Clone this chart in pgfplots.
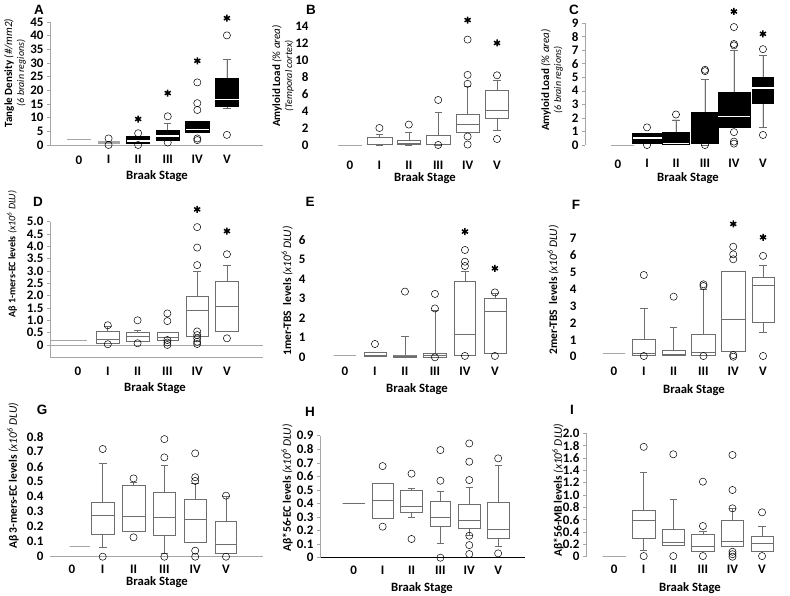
\documentclass[border=0pt]{standalone}
\usepackage{fontspec}
\setmainfont{Carlito}
\newfontfamily\arialfont{Liberation Sans}
\usepackage{pgfplots}
\pgfplotsset{compat=1.18}
\usepgfplotslibrary{statistics}

\definecolor{boxgray}{HTML}{6E6E6E}
\definecolor{lightg}{HTML}{A6A6A6}

\pgfplotsset{
  panel/.style={
    scale only axis, clip=false, anchor=south west,
    boxplot/draw direction=y,
    xtick={0,...,5}, xticklabels={0,I,II,III,IV,V},
    ticklabel style={font=\bfseries\fontsize{13}{13}\selectfont, text=black},
    /pgf/number format/assume math mode=true,
    axis lines*=left,
    axis line style={-, lightg, line width=0.7pt},
    x tick style={draw=none},
    y tick style={lightg, line width=0.5pt},
    tick align=outside, major tick length=3pt,
  },
  noaxes/.style={axis line style={draw=none}, y tick style={draw=none}},
  wb/.style={draw=boxgray, fill=white, line width=0.6pt,
    mark=o, mark size=3.6pt, mark options={draw=black, fill=white, line width=0.5pt, solid},
    boxplot/whisker extend=0.25},
  bb/.style={draw=black, fill=black, line width=0.6pt,
    mark=o, mark size=3.6pt, mark options={draw=black, fill=white, line width=0.5pt, solid},
    boxplot/every median/.style={draw=white, line width=1.6pt},
    boxplot/every whisker/.style={draw=boxgray},
    boxplot/whisker extend=0.25},
  zb/.style={draw=lightg, line width=0.8pt, mark=none},
  star/.style={only marks, mark=asterisk, mark size=3.5pt, line width=1.5pt, black},
}

\newcommand{\ylab}[2]{\fontsize{#1}{15}\selectfont #2}
\newcommand{\dlu}{\textit{(x10\textsuperscript{6} DLU)}}

\begin{document}
\begin{tikzpicture}
\path[use as bounding box] (0,0) rectangle (790pt,595pt);

% ---------------- A ----------------
\begin{axis}[panel, at={(50pt,450pt)}, width=213pt, height=123pt,
  xmin=-0.98, xmax=6.22, ymin=0, ymax=45,
  ytick={0,5,...,45}, yticklabels={0,5,10,15,20,25,30,35,40,45},
  xticklabel style={yshift=-4pt}]
\addplot[zb, boxplot prepared={draw position=0, box extend=0.78, lower whisker=2, lower quartile=2, median=2, upper quartile=2, upper whisker=2}] coordinates {};
\addplot[wb, draw=lightg, boxplot prepared={draw position=1, box extend=0.7, lower whisker=0.7, lower quartile=0.7, median=1.0, upper quartile=1.3, upper whisker=1.3}] table[row sep=\\, y index=0] {y\\ 2.4\\ 0\\};
\addplot[bb, boxplot prepared={draw position=2, box extend=0.78, lower whisker=0.6, lower quartile=0.6, median=1.5, upper quartile=3.0, upper whisker=3.0}] table[row sep=\\, y index=0] {y\\ 4.3\\ 0\\};
\addplot[bb, boxplot prepared={draw position=3, box extend=0.78, lower whisker=1.6, lower quartile=1.6, median=3.4, upper quartile=5.3, upper whisker=7.9}] table[row sep=\\, y index=0] {y\\ 10.5\\ 0.9\\};
\addplot[bb, boxplot prepared={draw position=4, box extend=0.78, lower whisker=4.6, lower quartile=4.6, median=5.7, upper quartile=8.6, upper whisker=8.6}] table[row sep=\\, y index=0] {y\\ 22.9\\ 15.3\\ 12.8\\ 2.4\\ 1.8\\};
\addplot[bb, boxplot prepared={draw position=5, box extend=0.8, lower whisker=13.5, lower quartile=14.1, median=16.7, upper quartile=24.4, upper whisker=31.4}] table[row sep=\\, y index=0] {y\\ 40.1\\ 3.7\\};
\addplot[star] coordinates {(2,9.5) (3,19) (4,30.8) (5,46.4)};
\end{axis}

% ---------------- B ----------------
\begin{axis}[panel, noaxes, at={(315pt,450pt)}, width=212pt, height=119pt,
  xmin=-1.19, xmax=6.02, ymin=0, ymax=14,
  ytick={0,2,...,14}, yticklabels={0,2,4,6,8,10,12,14},
  xticklabel style={yshift=-9.5pt}]
\addplot[zb, boxplot prepared={draw position=0, box extend=0.8, lower whisker=0, lower quartile=0, median=0, upper quartile=0, upper whisker=0}] coordinates {};
\addplot[wb, boxplot prepared={draw position=1, box extend=0.85, lower whisker=0, lower quartile=0.05, median=0.1, upper quartile=0.9, upper whisker=1.2}] table[row sep=\\, y index=0] {y\\ 2.0\\};
\addplot[wb, boxplot prepared={draw position=2, box extend=0.8, lower whisker=0, lower quartile=0.05, median=0.2, upper quartile=0.6, upper whisker=1.45}] table[row sep=\\, y index=0] {y\\ 2.4\\};
\addplot[wb, boxplot prepared={draw position=3, box extend=0.8, lower whisker=0, lower quartile=0.05, median=0.1, upper quartile=1.1, upper whisker=3.8}] table[row sep=\\, y index=0] {y\\ 5.3\\ 0\\};
\addplot[wb, boxplot prepared={draw position=4, box extend=0.8, lower whisker=1.5, lower quartile=1.5, median=2.45, upper quartile=3.6, upper whisker=6.9}] table[row sep=\\, y index=0] {y\\ 12.4\\ 8.25\\ 7.2\\ 1.0\\ 0.05\\};
\addplot[wb, boxplot prepared={draw position=5, box extend=0.8, lower whisker=1.7, lower quartile=3.15, median=4.05, upper quartile=6.4, upper whisker=7.6}] table[row sep=\\, y index=0] {y\\ 8.2\\ 0.7\\};
\addplot[star] coordinates {(4,14.7) (5,12.0)};
\end{axis}

% ---------------- C ----------------
\begin{axis}[panel, at={(585pt,450pt)}, width=204pt, height=122pt,
  xmin=-1.14, xmax=5.9, ymin=0, ymax=9,
  ytick={0,...,9}, yticklabels={0,1,2,3,4,5,6,7,8,9},
  x axis line style={draw=none},
  xticklabel style={yshift=-8pt}]
\addplot[zb, boxplot prepared={draw position=0.15, box extend=0.8, lower whisker=0, lower quartile=0, median=0, upper quartile=0, upper whisker=0}] coordinates {};
\addplot[bb, boxplot prepared={draw position=1, box extend=1.0, lower whisker=0.12, lower quartile=0.12, median=0.5, upper quartile=0.86, upper whisker=0.86}] table[row sep=\\, y index=0] {y\\ 1.3\\ 0\\};
\addplot[bb, boxplot prepared={draw position=2, box extend=0.92, lower whisker=0.07, lower quartile=0.07, median=0.1, upper quartile=0.96, upper whisker=1.85}] table[row sep=\\, y index=0] {y\\ 2.25\\};
\addplot[bb, boxplot prepared={draw position=3, box extend=0.95, lower whisker=0, lower quartile=0.02, median=0.05, upper quartile=2.4, upper whisker=4.85}] table[row sep=\\, y index=0] {y\\ 5.55\\ 5.45\\ 0\\};
\addplot[bb, boxplot prepared={draw position=4, box extend=1.1, lower whisker=1.3, lower quartile=1.3, median=2.1, upper quartile=3.9, upper whisker=7.0}] table[row sep=\\, y index=0] {y\\ 8.7\\ 7.45\\ 7.35\\ 0.95\\ 0.25\\ 0.1\\};
\addplot[bb, boxplot prepared={draw position=5, box extend=0.75, lower whisker=1.28, lower quartile=3.1, median=4.2, upper quartile=5.0, upper whisker=6.6}] table[row sep=\\, y index=0] {y\\ 7.07\\ 0.74\\};
\addplot[star] coordinates {(4,9.85) (5,8.2)};
\end{axis}

% ---------------- D ----------------
\begin{axis}[panel, at={(50pt,237.7pt)}, width=213pt, height=135.6pt,
  xmin=-0.94, xmax=6.21, ymin=-0.5, ymax=5,
  ytick={0,0.5,...,5}, yticklabels={0,0.5,1.0,1.5,2.0,2.5,3.0,3.5,4.0,4.5,5.0},
  extra y ticks={0}, extra y tick labels={},
  extra y tick style={grid=major, major grid style={lightg, line width=0.7pt}},
  xticklabel style={yshift=-3pt}]
\addplot[zb, boxplot prepared={draw position=-0.3, box extend=1.2, lower whisker=0.18, lower quartile=0.18, median=0.18, upper quartile=0.18, upper whisker=0.18}] coordinates {};
\addplot[wb, boxplot prepared={draw position=1, box extend=0.78, lower whisker=0.07, lower quartile=0.07, median=0.23, upper quartile=0.54, upper whisker=0.74}] table[row sep=\\, y index=0] {y\\ 0.8\\ 0.03\\};
\addplot[wb, boxplot prepared={draw position=2, box extend=0.78, lower whisker=0.16, lower quartile=0.16, median=0.34, upper quartile=0.51, upper whisker=0.6}] table[row sep=\\, y index=0] {y\\ 1.0\\ 0.07\\};
\addplot[wb, boxplot prepared={draw position=3, box extend=0.7, lower whisker=0.19, lower quartile=0.19, median=0.3, upper quartile=0.51, upper whisker=0.51}] table[row sep=\\, y index=0] {y\\ 1.28\\ 0.97\\ 0.2\\ 0.1\\ 0\\};
\addplot[wb, boxplot prepared={draw position=4, box extend=0.75, lower whisker=0.36, lower quartile=0.36, median=1.42, upper quartile=1.97, upper whisker=2.97}] table[row sep=\\, y index=0] {y\\ 4.78\\ 3.95\\ 3.24\\ 0.55\\ 0.4\\ 0.27\\ 0.13\\ 0.04\\};
\addplot[wb, boxplot prepared={draw position=5, box extend=0.75, lower whisker=0.54, lower quartile=0.54, median=1.55, upper quartile=2.57, upper whisker=3.24}] table[row sep=\\, y index=0] {y\\ 3.68\\ 0.27\\};
\addplot[star] coordinates {(4,5.5) (5,4.62)};
\end{axis}

% ---------------- E ----------------
\begin{axis}[panel, noaxes, at={(312pt,237.7pt)}, width=215pt, height=117.3pt,
  xmin=-1.1, xmax=6.07, ymin=0, ymax=6,
  ytick={0,...,6}, yticklabels={0,1,2,3,4,5,6},
  xticklabel style={yshift=-3pt}]
\addplot[zb, boxplot prepared={draw position=0, box extend=0.75, lower whisker=0.1, lower quartile=0.1, median=0.1, upper quartile=0.1, upper whisker=0.1}] coordinates {};
\addplot[wb, boxplot prepared={draw position=1, box extend=0.73, lower whisker=0.07, lower quartile=0.07, median=0.12, upper quartile=0.26, upper whisker=0.26}] table[row sep=\\, y index=0] {y\\ 0.68\\};
\addplot[wb, boxplot prepared={draw position=2, box extend=0.77, lower whisker=0.02, lower quartile=0.02, median=0.07, upper quartile=0.12, upper whisker=1.09}] table[row sep=\\, y index=0] {y\\ 3.36\\};
\addplot[wb, boxplot prepared={draw position=3, box extend=0.77, lower whisker=0.02, lower quartile=0.02, median=0.1, upper quartile=0.2, upper whisker=2.42}] table[row sep=\\, y index=0] {y\\ 3.24\\ 2.5\\ 0\\};
\addplot[wb, boxplot prepared={draw position=4, box extend=0.68, lower whisker=0.1, lower quartile=0.1, median=1.19, upper quartile=3.87, upper whisker=4.38}] table[row sep=\\, y index=0] {y\\ 5.49\\ 4.89\\ 4.67\\ 0.07\\};
\addplot[wb, boxplot prepared={draw position=5, box extend=0.73, lower whisker=0.2, lower quartile=0.2, median=2.37, upper quartile=3.0, upper whisker=3.27}] table[row sep=\\, y index=0] {y\\ 3.32\\ 0.07\\};
\addplot[star] coordinates {(4,6.43) (5,4.55)};
\end{axis}

% ---------------- F ----------------
\begin{axis}[panel, noaxes, at={(583pt,238.3pt)}, width=206pt, height=118.4pt,
  xmin=-1.04, xmax=5.87, ymin=0, ymax=7,
  ytick={0,...,7}, yticklabels={0,1,2,3,4,5,6,7},
  xticklabel style={yshift=-3.5pt}]
\addplot[zb, boxplot prepared={draw position=0, box extend=0.75, lower whisker=0.2, lower quartile=0.2, median=0.2, upper quartile=0.2, upper whisker=0.2}] coordinates {};
\addplot[wb, boxplot prepared={draw position=1, box extend=0.77, lower whisker=0.1, lower quartile=0.1, median=0.2, upper quartile=1.03, upper whisker=2.86}] table[row sep=\\, y index=0] {y\\ 4.83\\ 0.04\\};
\addplot[wb, boxplot prepared={draw position=2, box extend=0.77, lower whisker=0.08, lower quartile=0.08, median=0.14, upper quartile=0.39, upper whisker=1.72}] table[row sep=\\, y index=0] {y\\ 3.55\\};
\addplot[wb, boxplot prepared={draw position=3, box extend=0.8, lower whisker=0.1, lower quartile=0.1, median=0.26, upper quartile=1.32, upper whisker=3.98}] table[row sep=\\, y index=0] {y\\ 4.28\\ 4.18\\ 0.04\\};
\addplot[wb, boxplot prepared={draw position=4, box extend=0.8, lower whisker=0.3, lower quartile=0.3, median=2.23, upper quartile=5.07, upper whisker=5.07}] table[row sep=\\, y index=0] {y\\ 6.5\\ 6.05\\ 5.76\\ 0.1\\ 0.0\\};
\addplot[wb, boxplot prepared={draw position=5, box extend=0.73, lower whisker=1.45, lower quartile=2.01, median=4.2, upper quartile=4.69, upper whisker=5.42}] table[row sep=\\, y index=0] {y\\ 5.96\\ 0.04\\};
\addplot[star] coordinates {(4,7.85) (5,7.06)};
\end{axis}

% ---------------- G ----------------
\begin{axis}[panel, at={(50pt,38.3pt)}, width=213pt, height=120pt,
  xmin=-0.71, xmax=6.2, ymin=0, ymax=0.8,
  ytick={0,0.1,...,0.8}, yticklabels={0,0.1,0.2,0.3,0.4,0.5,0.6,0.7,0.8},
  y axis line style={draw=none}, y tick style={draw=none},
  xticklabel style={yshift=-2pt}]
\addplot[zb, boxplot prepared={draw position=0.25, box extend=0.65, lower whisker=0.067, lower quartile=0.067, median=0.067, upper quartile=0.067, upper whisker=0.067}] coordinates {};
\addplot[wb, boxplot prepared={draw position=1, box extend=0.75, lower whisker=0.06, lower quartile=0.149, median=0.278, upper quartile=0.362, upper whisker=0.622}] table[row sep=\\, y index=0] {y\\ 0.718\\ 0\\};
\addplot[wb, boxplot prepared={draw position=2, box extend=0.75, lower whisker=0.171, lower quartile=0.171, median=0.267, upper quartile=0.478, upper whisker=0.493}] table[row sep=\\, y index=0] {y\\ 0.522\\ 0.129\\};
\addplot[wb, boxplot prepared={draw position=3, box extend=0.72, lower whisker=0.02, lower quartile=0.14, median=0.262, upper quartile=0.429, upper whisker=0.611}] table[row sep=\\, y index=0] {y\\ 0.784\\ 0.662\\ 0\\};
\addplot[wb, boxplot prepared={draw position=4, box extend=0.73, lower whisker=0.096, lower quartile=0.096, median=0.249, upper quartile=0.383, upper whisker=0.489}] table[row sep=\\, y index=0] {y\\ 0.689\\ 0.53\\ 0.505\\ 0.04\\ 0\\};
\addplot[wb, boxplot prepared={draw position=5, box extend=0.7, lower whisker=0.023, lower quartile=0.023, median=0.085, upper quartile=0.233, upper whisker=0.405}] table[row sep=\\, y index=0] {y\\ 0.407\\ 0\\};
\end{axis}

% ---------------- H ----------------
\begin{axis}[panel, at={(320pt,37.3pt)}, width=205pt, height=122pt,
  xmin=-1.17, xmax=5.93, ymin=0, ymax=0.9,
  ytick={0,0.1,...,0.9}, yticklabels={0,0.1,0.2,0.3,0.4,0.5,0.6,0.7,0.8,0.9},
  x axis line style={draw=black, line width=0.8pt},
  xticklabel style={yshift=-2pt}]
\addplot[zb, draw=boxgray, boxplot prepared={draw position=0, box extend=0.77, lower whisker=0.4, lower quartile=0.4, median=0.4, upper quartile=0.4, upper whisker=0.4}] coordinates {};
\addplot[wb, boxplot prepared={draw position=1, box extend=0.72, lower whisker=0.29, lower quartile=0.29, median=0.423, upper quartile=0.548, upper whisker=0.548}] table[row sep=\\, y index=0] {y\\ 0.676\\ 0.229\\};
\addplot[wb, boxplot prepared={draw position=2, box extend=0.75, lower whisker=0.295, lower quartile=0.334, median=0.376, upper quartile=0.494, upper whisker=0.51}] table[row sep=\\, y index=0] {y\\ 0.62\\ 0.138\\};
\addplot[wb, boxplot prepared={draw position=3, box extend=0.72, lower whisker=0.106, lower quartile=0.229, median=0.298, upper quartile=0.413, upper whisker=0.487}] table[row sep=\\, y index=0] {y\\ 0.794\\ 0.568\\ 0\\};
\addplot[wb, boxplot prepared={draw position=4, box extend=0.75, lower whisker=0.167, lower quartile=0.216, median=0.273, upper quartile=0.393, upper whisker=0.516}] table[row sep=\\, y index=0] {y\\ 0.843\\ 0.708\\ 0.573\\ 0.162\\ 0.093\\ 0.027\\};
\addplot[wb, boxplot prepared={draw position=5, box extend=0.78, lower whisker=0.081, lower quartile=0.143, median=0.209, upper quartile=0.408, upper whisker=0.679}] table[row sep=\\, y index=0] {y\\ 0.733\\ 0.032\\};
\end{axis}

% ---------------- I ----------------
\begin{axis}[panel, at={(586pt,38.3pt)}, width=203pt, height=123.4pt,
  xmin=-0.95, xmax=5.91, ymin=0, ymax=2.0,
  ytick={0,0.2,...,2.0}, yticklabels={0,0.2,0.4,0.6,0.8,1.0,1.2,1.4,1.6,1.8,2.0},
  x axis line style={draw=none},
  xticklabel style={yshift=-2pt}]
\addplot[zb, boxplot prepared={draw position=0, box extend=0.77, lower whisker=0.01, lower quartile=0.01, median=0.01, upper quartile=0.01, upper whisker=0.01}] coordinates {};
\addplot[wb, boxplot prepared={draw position=1, box extend=0.77, lower whisker=0.11, lower quartile=0.297, median=0.595, upper quartile=0.746, upper whisker=1.37}] table[row sep=\\, y index=0] {y\\ 1.78\\ 0.01\\};
\addplot[wb, boxplot prepared={draw position=2, box extend=0.74, lower whisker=0.189, lower quartile=0.189, median=0.232, upper quartile=0.443, upper whisker=0.93}] table[row sep=\\, y index=0] {y\\ 1.66\\ 0.01\\};
\addplot[wb, boxplot prepared={draw position=3, box extend=0.76, lower whisker=0.092, lower quartile=0.092, median=0.173, upper quartile=0.362, upper whisker=0.405}] table[row sep=\\, y index=0] {y\\ 1.216\\ 0.497\\ 0.01\\};
\addplot[wb, boxplot prepared={draw position=4, box extend=0.76, lower whisker=0.162, lower quartile=0.162, median=0.254, upper quartile=0.595, upper whisker=0.784}] table[row sep=\\, y index=0] {y\\ 1.649\\ 1.081\\ 0.784\\ 0.08\\ 0.04\\ 0\\};
\addplot[wb, boxplot prepared={draw position=5, box extend=0.74, lower whisker=0.092, lower quartile=0.092, median=0.216, upper quartile=0.324, upper whisker=0.497}] table[row sep=\\, y index=0] {y\\ 0.719\\ 0.01\\};
\end{axis}

% ---------------- labels ----------------
\begin{scope}[every node/.style={inner sep=0pt}]
\foreach \l/\x/\y in {A/39/10, B/311/10, C/574/10, D/38/202, E/310/202, F/576/205, G/42/410, H/310/412, I/572/410}
  \node[font=\arialfont\bfseries\fontsize{13.5}{13.5}\selectfont] at ({\x*1pt}, {(595-\y)*1pt}) {\l};
\foreach \x/\y in {157/176, 425/178, 688/178, 155/388, 417/389, 694/390, 157/582, 422/588, 690/588}
  \node[font=\bfseries\fontsize{12.7}{12.7}\selectfont] at ({\x*1pt}, {(595-\y)*1pt}) {Braak Stage};

\node[rotate=90, align=center] at (15pt, 522pt) {\ylab{11}{\textbf{Tangle Density} \textit{(\#/mm2)}\\ \textit{(6 brain regions)}}};
\node[rotate=90, align=center] at (283pt, 519pt) {\ylab{11}{\textbf{Amyloid Load} \textit{(\% area)}\\ \textit{(Temporal cortex)}}};
\node[rotate=90, align=center] at (552pt, 515pt) {\ylab{11}{\textbf{Amyloid Load} \textit{(\% area)}\\ \textit{(6 brain regions)}}};
\node[rotate=90] at (12pt, 341pt) {\ylab{10}{\textbf{Aβ 1-mers-EC levels} \dlu}};
\node[rotate=90] at (287pt, 304pt) {\ylab{11.5}{\textbf{1mer-TBS\ \ levels} \dlu}};
\node[rotate=90] at (553pt, 305pt) {\ylab{11.5}{\textbf{2mer-TBS\ \ levels} \dlu}};
\node[rotate=90] at (13pt, 119pt) {\ylab{11.5}{\textbf{Aβ 3-mers-EC levels} \dlu}};
\node[rotate=90] at (287pt, 107pt) {\ylab{11.5}{\textbf{Aβ*56-EC levels} \dlu}};
\node[rotate=90] at (558pt, 105pt) {\ylab{11.5}{\textbf{Aβ*56-MB levels} \dlu}};
\end{scope}
\end{tikzpicture}
\end{document}
